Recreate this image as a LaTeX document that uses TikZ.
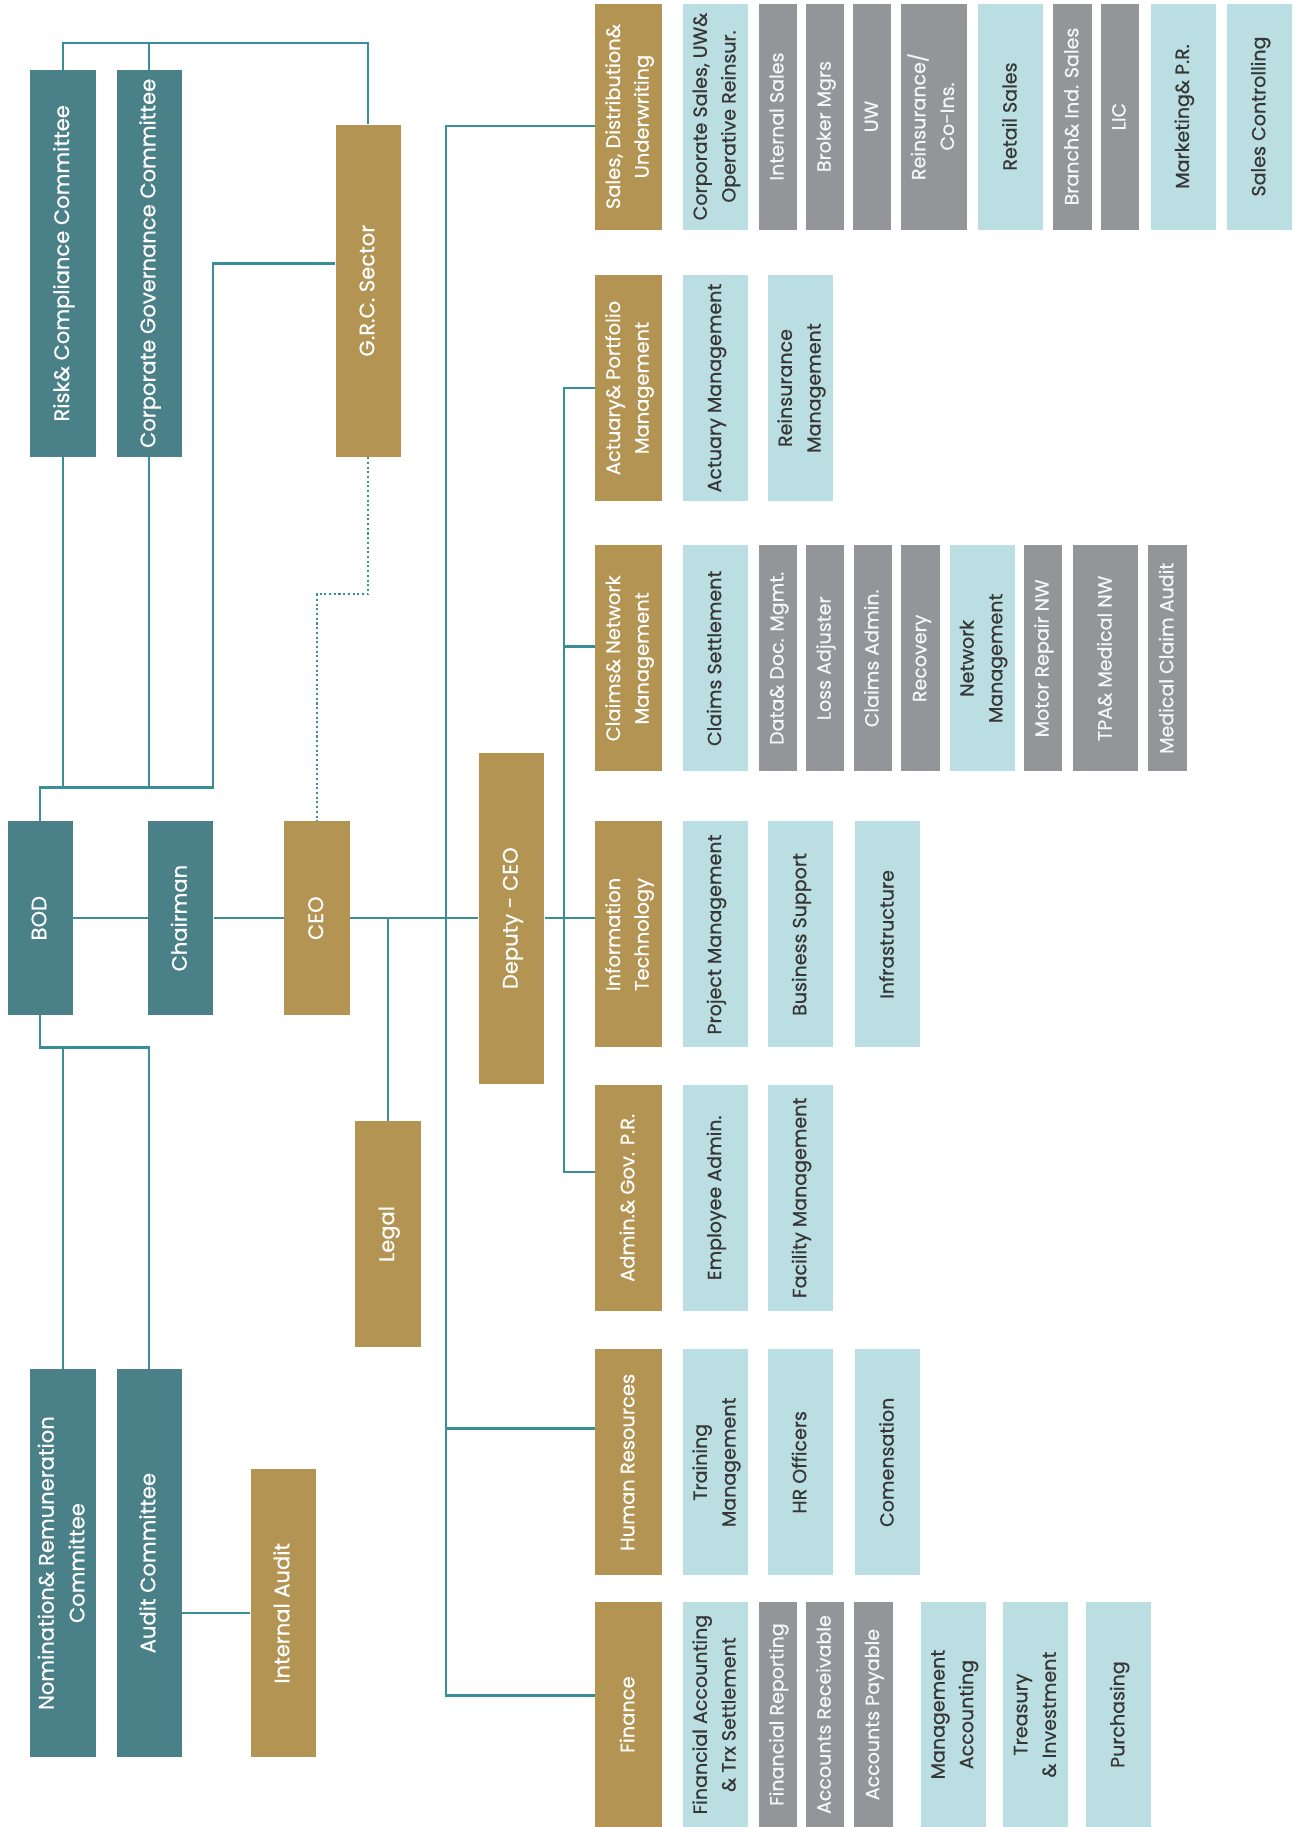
\documentclass[tikz,border=0pt]{standalone}
\usepackage{fontspec}
\setmainfont{Poppins}[FakeBold=0.6]
\usepackage{graphicx}
\usetikzlibrary{positioning,calc}

\definecolor{boardc}{HTML}{4A8088}
\definecolor{goldc}{HTML}{B39453}
\definecolor{cl}{HTML}{BBDEE2}
\definecolor{cg}{HTML}{939599}
\definecolor{tl}{HTML}{363636}
\definecolor{tg}{HTML}{F6F6F6}
\definecolor{linec}{HTML}{3A8E98}

% text turned to read from bottom to top
\newcommand{\rotlbl}[1]{\rotatebox{90}{\begin{tabular}{@{}c@{}}#1\end{tabular}}}

\tikzset{
  box/.style={rectangle, inner sep=0pt, minimum width=1.12cm},
  board/.style={box, fill=boardc, text=white, font=\fontsize{10.3}{15}\selectfont},
  exec/.style={box, fill=goldc, text=white, font=\fontsize{10.3}{15}\selectfont},
  dept/.style={box, fill=goldc, text=white, minimum width=1.14cm, minimum height=3.88cm, font=\fontsize{9.5}{14}\selectfont},
  unit/.style={box, minimum height=3.88cm, font=\fontsize{9.3}{14}\selectfont},
  conn/.style={draw=linec, line width=1.2pt},
  dots/.style={draw=linec, line width=1pt, dash pattern=on 1pt off 1.3pt},
}

\begin{document}
\begin{tikzpicture}[x=0.02cm, y=-0.02cm]
  \useasboundingbox (0,0) rectangle (1111,1568);

  % board level
  \node[board, minimum height=6.64cm] (risk) at (54,226) {\rotlbl{Risk\& Compliance Committee}};
  \node[board, minimum height=6.64cm] (corp) at (128,226) {\rotlbl{Corporate Governance Committee}};
  \node[exec, minimum height=5.7cm] (grc) at (316,249.5) {\rotlbl{G.R.C. Sector}};
  \node[board, minimum height=3.32cm] (bod) at (34.5,788) {\rotlbl{BOD}};
  \node[board, minimum height=3.32cm] (chair) at (155,788) {\rotlbl{Chairman}};
  \node[exec, minimum height=3.32cm] (ceo) at (272,788) {\rotlbl{CEO}};
  \node[exec, minimum height=5.68cm] (deputy) at (439,788) {\rotlbl{Deputy - CEO}};
  \node[exec, minimum height=3.88cm] (legal) at (333,1059) {\rotlbl{Legal}};
  \node[board, minimum height=6.66cm] (nom) at (54,1341.5) {\rotlbl{Nomination\& Remuneration\\Committee}};
  \node[board, minimum height=6.66cm] (audit) at (128,1341.5) {\rotlbl{Audit Committee}};
  \node[exec, minimum height=4.94cm] (iaudit) at (243,1384.5) {\rotlbl{Internal Audit}};

  % departments
  \node[dept] (sales) at (539.5,100) {\rotlbl{Sales, Distribution\&\\Underwriting}};
  \node[dept] (act) at (539.5,333) {\rotlbl{Actuary\& Portfolio\\Management}};
  \node[dept] (clm) at (539.5,565) {\rotlbl{Claims\& Network\\Management}};
  \node[dept] (it) at (539.5,802) {\rotlbl{Information\\Technology}};
  \node[dept] (adm) at (539.5,1028) {\rotlbl{Admin.\& Gov. P.R.}};
  \node[dept] (hr) at (539.5,1255) {\rotlbl{Human Resources}};
  \node[dept] (fin) at (539.5,1471.5) {\rotlbl{Finance}};

  % units of each department
  \foreach \px/\kd/\cw/\lbl [count=\i] in {
      614/l/1.12/{Corporate Sales, UW\&\\Operative Reinsur.},
      667.5/g/0.66/{Internal Sales},
      708/g/0.66/{Broker Mgrs},
      748.5/g/0.66/{UW},
      801.5/g/1.12/{Reinsurance/\\Co-Ins.},
      867.5/l/1.12/{Retail Sales},
      920.5/g/0.66/{Branch\& Ind. Sales},
      961/g/0.66/{LIC},
      1015.5/l/1.12/{Marketing\& P.R.},
      1081/l/1.12/{Sales Controlling}}
    \node[unit, fill=c\kd, text=t\kd, minimum width=\cw cm] (sal\i) at (\px,100) {\rotlbl{\lbl}};

  \foreach \px/\lbl [count=\i] in {614/{Actuary Management}, 687/{Reinsurance\\Management}}
    \node[unit, fill=cl, text=tl] (act\i) at (\px,333) {\rotlbl{\lbl}};

  \foreach \px/\kd/\cw/\lbl [count=\i] in {
      614/l/1.12/{Claims Settlement},
      667.5/g/0.66/{Data\& Doc. Mgmt.},
      708/g/0.66/{Loss Adjuster},
      749/g/0.66/{Claims Admin.},
      790/g/0.66/{Recovery},
      843/l/1.12/{Network\\Management},
      895/g/0.66/{Motor Repair NW},
      949/g/1.12/{TPA\& Medical NW},
      1002/g/0.66/{Medical Claim Audit}}
    \node[unit, fill=c\kd, text=t\kd, minimum width=\cw cm] (clm\i) at (\px,565) {\rotlbl{\lbl}};

  \foreach \px/\lbl [count=\i] in {614/{Project Management}, 687/{Business Support}, 762/{Infrastructure}}
    \node[unit, fill=cl, text=tl] (it\i) at (\px,802) {\rotlbl{\lbl}};

  \foreach \px/\lbl [count=\i] in {614/{Employee Admin.}, 687/{Facility Management}}
    \node[unit, fill=cl, text=tl] (adm\i) at (\px,1028) {\rotlbl{\lbl}};

  \foreach \px/\lbl [count=\i] in {614/{Training\\Management}, 687/{HR Officers}, 762/{Comensation}}
    \node[unit, fill=cl, text=tl] (hr\i) at (\px,1255) {\rotlbl{\lbl}};

  \foreach \px/\kd/\cw/\lbl [count=\i] in {
      614/l/1.12/{Financial Accounting\\\& Trx Settlement},
      667.5/g/0.66/{Financial Reporting},
      708/g/0.66/{Accounts Receivable},
      749.5/g/0.66/{Accounts Payable},
      818/l/1.12/{Management\\Accounting},
      889/l/1.12/{Treasury\\\& Investment},
      960/l/1.12/{Purchasing}}
    \node[unit, fill=c\kd, text=t\kd, minimum width=\cw cm] (fin\i) at (\px,1471.5) {\rotlbl{\lbl}};

  % helper coordinates for the connector bars
  \coordinate (topbar) at (0,37);
  \coordinate (grcbar) at (183,676);
  \coordinate (dotbar) at (0,510);
  \coordinate (lowbar) at (0,899);

  % board connectors
  \draw[conn] (risk.north) |- (topbar -| grc.north) -- (grc.north);
  \draw[conn] (corp.north) -- (corp.north |- topbar);
  \draw[conn] (grc.west |- 0,226) -| (grcbar) -| (bod.north);
  \draw[conn] (risk.south) -- (risk.south |- grcbar);
  \draw[conn] (corp.south) -- (corp.south |- grcbar);
  \draw[dots] (grc.south) |- (ceo.north |- dotbar) -- (ceo.north);
  \draw[conn] (bod.south) |- (lowbar -| audit.north) -- (audit.north);
  \draw[conn] (nom.north |- lowbar) -- (nom.north);
  \draw[conn] (audit.east |- iaudit.west) -- (iaudit.west);

  % executive line
  \draw[conn] (bod) -- (chair);
  \draw[conn] (chair) -- (ceo);
  \draw[conn] (ceo) -- (deputy);
  \draw[conn] (deputy.east) -- (it.west |- deputy.east);
  \draw[conn] (ceo.east -| legal.north) -- (legal.north);

  % department spines
  \draw[conn] (sales.west |- 0,108) -| (383,1455) -- (fin.west |- 0,1455);
  \draw[conn] (383,1226) -- (hr.west |- 0,1226);
  \draw[conn] (act.west) -| (484,1006) -- (adm.west |- 0,1006);
  \draw[conn] (484,555) -- (clm.west |- 0,555);
\end{tikzpicture}
\end{document}
